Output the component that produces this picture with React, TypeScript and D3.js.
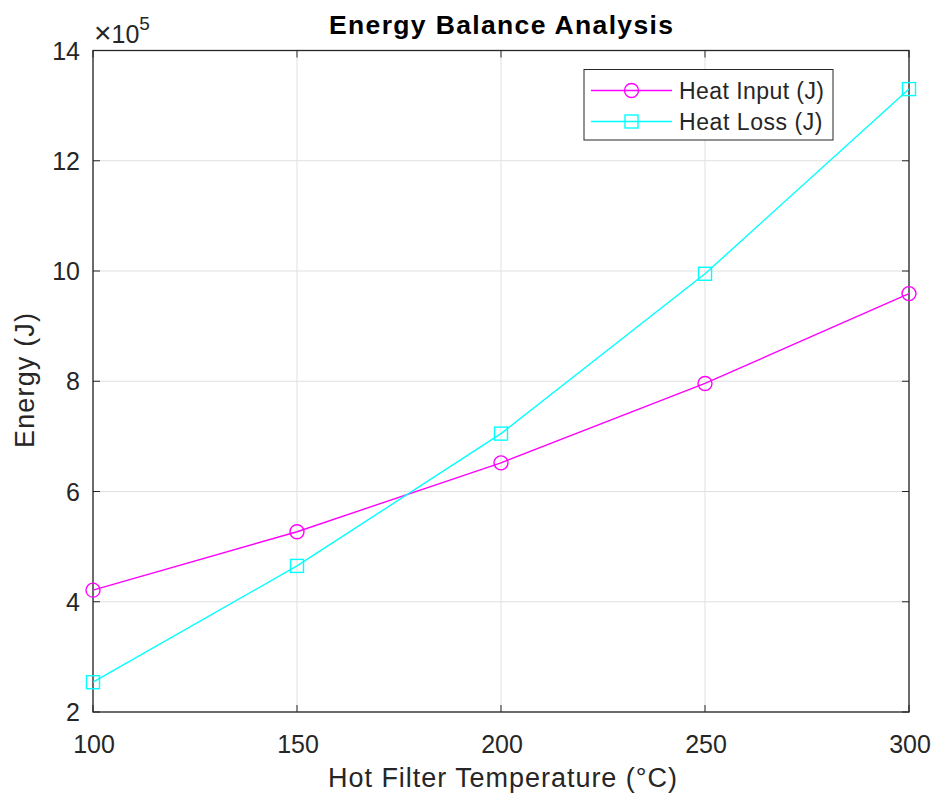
import React from "react";
import * as d3 from "d3";

const temps = [100, 150, 200, 250, 300];
const heatInput = [4.21, 5.27, 6.52, 7.96, 9.59];
const heatLoss = [2.54, 4.65, 7.05, 9.95, 13.3];
const xTicks = [100, 150, 200, 250, 300];
const yTicks = [2, 4, 6, 8, 10, 12, 14];

const W = 935, H = 794;
const L = 93, R = 909, T = 50.5, B = 712;
const FONT = "'Liberation Sans', Arial, Helvetica, sans-serif";
const AX = "#262626";

export default function App() {
  const x = d3.scaleLinear().domain([100, 300]).range([L, R]);
  const y = d3.scaleLinear().domain([2, 14]).range([B, T]);
  const line = d3.line<number>().x((_, i) => x(temps[i])).y((d) => y(d));
  const series = [
    { name: "Heat Input (J)", data: heatInput, color: "#ff00ff", marker: "o", tlen: 145 },
    { name: "Heat Loss (J)", data: heatLoss, color: "#00ffff", marker: "s", tlen: 143.5 },
  ];
  const marker = (m: string, cx: number, cy: number, c: string, k: string) =>
    m === "o" ? (
      <circle key={k} cx={cx} cy={cy} r={7} fill="none" stroke={c} strokeWidth={1.4} />
    ) : (
      <rect key={k} x={cx - 6.5} y={cy - 6.5} width={13} height={13} fill="none" stroke={c} strokeWidth={1.4} />
    );
  const tl = 7;
  return (
    <svg width={W} height={H} style={{ position: "absolute", left: 0, top: 0, background: "#fff" }} fontFamily={FONT}>
      <rect x={0} y={0} width={W} height={H} fill="#fff" />
      {/* grid */}
      {xTicks.map((t) => (
        <line key={"gx" + t} x1={x(t)} x2={x(t)} y1={T} y2={B} stroke="#dfdfdf" strokeWidth={1} />
      ))}
      {yTicks.map((t) => (
        <line key={"gy" + t} x1={L} x2={R} y1={y(t)} y2={y(t)} stroke="#dfdfdf" strokeWidth={1} />
      ))}
      {/* ticks */}
      {xTicks.map((t) => (
        <g key={"tx" + t}>
          <line x1={x(t)} x2={x(t)} y1={B} y2={B - tl} stroke={AX} />
          <line x1={x(t)} x2={x(t)} y1={T} y2={T + tl} stroke={AX} />
          <text x={x(t) + 1} y={753} fontSize={25} fill={AX} textAnchor="middle">{t}</text>
        </g>
      ))}
      {yTicks.map((t) => (
        <g key={"ty" + t}>
          <line x1={L} x2={L + tl} y1={y(t)} y2={y(t)} stroke={AX} />
          <line x1={R} x2={R - tl} y1={y(t)} y2={y(t)} stroke={AX} />
          <text x={80} y={y(t) + 9} fontSize={25} fill={AX} textAnchor="end">{t}</text>
        </g>
      ))}
      <rect x={L} y={T} width={R - L} height={B - T} fill="none" stroke={AX} strokeWidth={1.3} />
      {/* exponent */}
      <text x={94} y={43} fontSize={25} fill={AX}>
        <tspan fontSize={30}>×</tspan>10<tspan dy={-13} fontSize={19}>5</tspan>
      </text>
      {/* series */}
      {series.map((s) => (
        <g key={s.name}>
          <path d={line(s.data) || ""} fill="none" stroke={s.color} strokeWidth={1.4} />
          {s.data.map((v, i) => marker(s.marker, x(temps[i]), y(v), s.color, s.name + i))}
        </g>
      ))}
      {/* legend */}
      <rect x={584} y={69.5} width={249} height={70.5} fill="#fff" stroke={AX} strokeWidth={1} />
      {series.map((s, i) => {
        const ly = 90.5 + i * 31;
        return (
          <g key={"lg" + s.name}>
            <line x1={591} x2={672} y1={ly} y2={ly} stroke={s.color} strokeWidth={1.4} />
            {marker(s.marker, 631.5, ly, s.color, "lm" + i)}
            <text x={679} y={ly + 8} fontSize={23} fill={AX} textLength={s.tlen} lengthAdjust="spacing">{s.name}</text>
          </g>
        );
      })}
      {/* labels */}
      <text x={329} y={34} fontSize={26.5} fontWeight="bold" fill="#000" textLength={344} lengthAdjust="spacing">
        Energy Balance Analysis
      </text>
      <text x={328} y={787} fontSize={27} fill={AX} textLength={349} lengthAdjust="spacing">
        Hot Filter Temperature (°C)
      </text>
      <text transform={`translate(34,448) rotate(-90)`} fontSize={27} fill={AX} textLength={135} lengthAdjust="spacing">
        Energy (J)
      </text>
    </svg>
  );
}
